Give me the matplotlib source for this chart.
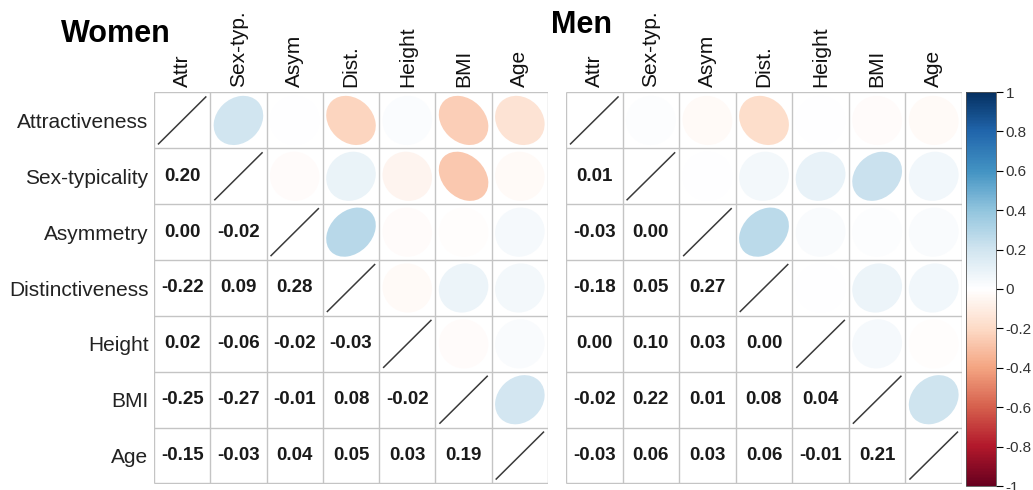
import numpy as np
import matplotlib
matplotlib.use("Agg")
import matplotlib.pyplot as plt
from matplotlib.patches import Ellipse
from matplotlib.colors import LinearSegmentedColormap, Normalize
from matplotlib.colorbar import ColorbarBase

plt.rcParams['font.family'] = ['Liberation Sans', 'DejaVu Sans']
plt.rcParams['axes.unicode_minus'] = False

row_labels = ["Attractiveness", "Sex-typicality", "Asymmetry", "Distinctiveness",
              "Height", "BMI", "Age"]
col_labels = ["Attr", "Sex-typ.", "Asym", "Dist.", "Height", "BMI", "Age"]

# lower triangle of each correlation matrix, row by row
women_lower = [
    [],
    [0.20],
    [0.00, -0.02],
    [-0.22, 0.09, 0.28],
    [0.02, -0.06, -0.02, -0.03],
    [-0.25, -0.27, -0.01, 0.08, -0.02],
    [-0.15, -0.03, 0.04, 0.05, 0.03, 0.19],
]
men_lower = [
    [],
    [0.01],
    [-0.03, 0.00],
    [-0.18, 0.05, 0.27],
    [0.00, 0.10, 0.03, 0.00],
    [-0.02, 0.22, 0.01, 0.08, 0.04],
    [-0.03, 0.06, 0.03, 0.06, -0.01, 0.21],
]

cbar_ticks = [1, 0.8, 0.6, 0.4, 0.2, 0, -0.2, -0.4, -0.6, -0.8, -1]

# RdBu ramp as used by corrplot (white centre)
rdbu = LinearSegmentedColormap.from_list("corr_rdbu", [
    "#67001F", "#B2182B", "#D6604D", "#F4A582", "#FDDBC7", "#FFFFFF",
    "#D1E5F0", "#92C5DE", "#4393C3", "#2166AC", "#053061"])
norm = Normalize(-1, 1)

W, H = 1033, 490


def full_matrix(lower):
    n = len(lower)
    m = np.eye(n)
    for i, row in enumerate(lower):
        for j, v in enumerate(row):
            m[i, j] = v
            m[j, i] = v
    return m


def px_axes(fig, x0, y0, x1, y1):
    return fig.add_axes([x0 / W, (H - y1) / H, (x1 - x0) / W, (y1 - y0) / H])


def draw_corr(ax, mat, show_rows):
    n = mat.shape[0]
    ax.set_xlim(0, n)
    ax.set_ylim(n, 0)
    for i in range(n):
        for j in range(n):
            r = mat[i, j]
            if i == j:
                ax.plot([j + 0.08, j + 0.92], [i + 0.92, i + 0.08],
                        color="#3a3a3a", lw=1.1, zorder=3)
            elif i > j:
                ax.text(j + 0.5, i + 0.5, "%.2f" % r, ha="center", va="center",
                        fontsize=13.5, fontweight="bold", color="#1a1a1a")
            else:
                s = 0.88
                ax.add_patch(Ellipse((j + 0.5, i + 0.5), width=np.sqrt(1 + r) * s,
                                     height=np.sqrt(1 - r) * s, angle=-45,
                                     facecolor=rdbu(norm(r)), edgecolor="none",
                                     zorder=1))
    ax.vlines(np.arange(n + 1), 0, n, color="#c4c4c4", lw=1, zorder=2)
    ax.hlines(np.arange(n + 1), 0, n, color="#c4c4c4", lw=1, zorder=2)
    for sp in ax.spines.values():
        sp.set_visible(False)

    ax.xaxis.tick_top()
    ax.set_xticks(np.arange(n) + 0.5)
    ax.set_xticklabels(col_labels, rotation=90, fontsize=15, color="#111111")
    ax.set_yticks(np.arange(n) + 0.5)
    if show_rows:
        ax.set_yticklabels(row_labels, fontsize=15, color="#222222")
    else:
        ax.set_yticklabels([])
    ax.tick_params(length=0, pad=4)


fig = plt.figure(figsize=(W / 100, H / 100), dpi=100)

ax_w = px_axes(fig, 154, 92.5, 548, 483.5)
draw_corr(ax_w, full_matrix(women_lower), True)

ax_m = px_axes(fig, 566, 92.5, 962, 483.5)
draw_corr(ax_m, full_matrix(men_lower), False)

fig.text(61 / W, 1 - 42 / H, "Women", fontsize=22, fontweight="bold", ha="left", va="baseline")
fig.text(551 / W, 1 - 33 / H, "Men", fontsize=22, fontweight="bold", ha="left", va="baseline")

cax = px_axes(fig, 966, 92, 996, 486)
cb = ColorbarBase(cax, cmap=rdbu, norm=norm, ticks=cbar_ticks)
cb.outline.set_edgecolor("#555555")
cb.outline.set_linewidth(0.6)
cb.ax.set_yticklabels(["%g" % t for t in cbar_ticks])
cb.ax.tick_params(length=5, width=0.8, pad=2, labelsize=11, labelcolor="#333333")

fig.savefig("out.png", dpi=100)
